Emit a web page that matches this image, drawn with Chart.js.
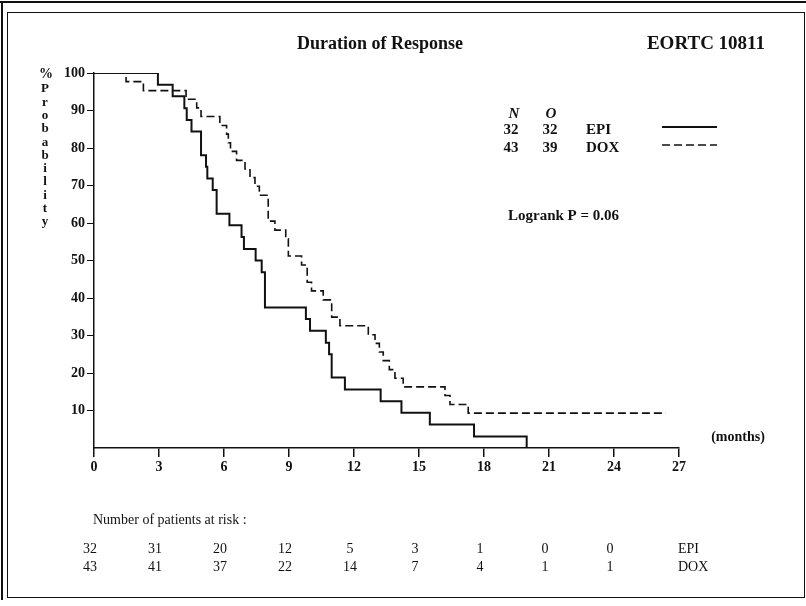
<!DOCTYPE html>
<html>
<head>
<meta charset="utf-8">
<script src="https://cdn.jsdelivr.net/npm/chart.js@4.4.1/dist/chart.umd.min.js"></script>
<style>
  body { margin: 0; background: #fff; }
  canvas { display: block; }
</style>
</head>
<body>
<canvas id="myChart" width="806" height="606"></canvas>
<script>
// Kaplan-Meier steps: month where the curve drops, and % remaining after the drop
const epiMonths = [0, 2.95, 3.63, 4.17, 4.28, 4.5, 4.94, 5.17, 5.23, 5.48, 5.66, 6.25, 6.81, 6.92, 7.46, 7.74, 7.89, 9.78, 9.97, 10.7, 10.85, 10.97, 11.58, 13.23, 14.19, 15.5, 17.54, 19.97];
const epiSurv = [100, 96.9, 93.8, 90.6, 87.5, 84.4, 78.1, 75.0, 71.9, 68.8, 62.5, 59.4, 56.3, 53.1, 50.0, 46.9, 37.5, 34.4, 31.3, 28.1, 25.0, 18.8, 15.6, 12.5, 9.4, 6.3, 3.1, 0];

const doxMonths = [0, 1.48, 2.28, 4.25, 4.74, 4.94, 5.81, 6.12, 6.2, 6.3, 6.58, 6.97, 7.2, 7.43, 7.63, 8.04, 8.35, 8.85, 8.97, 9.58, 9.84, 10.04, 10.58, 10.97, 11.35, 12.66, 12.97, 13.17, 13.35, 13.63, 13.89, 14.27, 16.2, 16.43, 17.27, 26.4];
const doxSurv = [100, 97.7, 95.3, 93.0, 90.7, 88.4, 86.0, 83.7, 81.4, 79.1, 76.7, 74.4, 72.1, 69.8, 67.4, 60.5, 58.1, 55.8, 51.2, 48.8, 44.2, 41.9, 39.5, 34.9, 32.6, 30.2, 27.9, 25.6, 23.3, 20.9, 18.6, 16.3, 14.0, 11.6, 9.3, 9.3];

// numbers at risk under the axis
const riskMonths = [0, 3, 6, 9, 12, 15, 18, 21, 24];
const epiAtRisk = [32, 31, 20, 12, 5, 3, 1, 0, 0];
const doxAtRisk = [43, 41, 37, 22, 14, 7, 4, 1, 1];

// legend table
const groups = ['EPI', 'DOX'];
const groupN = [32, 43];
const groupO = [32, 39];

const serif = '"Liberation Serif", "Times New Roman", serif';
const ink = '#111';

function toPoints(xs, ys) {
    return xs.map((x, i) => ({ x: x, y: ys[i] }));
}

const extras = {
    id: 'extras',
    beforeDraw(chart) {
        const c = chart.ctx;
        c.save();
        c.fillStyle = '#fff';
        c.fillRect(0, 0, chart.width, chart.height);
        c.restore();
    },
    afterDraw(chart) {
        const c = chart.ctx;
        const xs = chart.scales.x;
        c.save();
        c.fillStyle = ink;
        c.strokeStyle = ink;

        // frame
        c.lineWidth = 2;
        c.beginPath();
        c.moveTo(0, 2); c.lineTo(806, 2);
        c.moveTo(2, 2); c.lineTo(2, 600);
        c.stroke();
        c.lineWidth = 1;
        c.strokeRect(7.5, 12.5, 797, 585);

        c.textBaseline = 'middle';
        c.textAlign = 'center';
        c.font = 'bold 18px ' + serif;
        c.fillText('Duration of Response', 380, 44);
        c.font = 'bold 19px ' + serif;
        c.fillText('EORTC 10811', 706, 44);

        // y axis title, stacked letters
        c.font = 'bold 14px ' + serif;
        c.fillText('%', 46, 74);
        c.font = 'bold 13px ' + serif;
        const word = 'Probability';
        for (let i = 0; i < word.length; i++) {
            c.fillText(word[i], 45, 89 + i * 13.3);
        }

        c.font = 'bold 14px ' + serif;
        c.fillText('(months)', 738, 437);

        // legend
        c.font = 'bold italic 15px ' + serif;
        c.fillText('N', 514, 114);
        c.fillText('O', 551, 114);
        c.font = 'bold 15px ' + serif;
        for (let i = 0; i < groups.length; i++) {
            const y = 130 + i * 18;
            c.textAlign = 'center';
            c.fillText(String(groupN[i]), 511, y);
            c.fillText(String(groupO[i]), 550, y);
            c.textAlign = 'left';
            c.fillText(groups[i], 586, y);
            const ds = chart.data.datasets[i];
            c.lineWidth = ds.borderWidth;
            c.setLineDash(ds.borderDash || []);
            c.beginPath();
            c.moveTo(662, y - 3);
            c.lineTo(717, y - 3);
            c.stroke();
            c.setLineDash([]);
        }
        c.textAlign = 'left';
        c.fillText('Logrank P = 0.06', 508, 216);

        // numbers at risk
        c.font = '14px ' + serif;
        c.fillText('Number of patients at risk :', 93, 520);
        c.textAlign = 'center';
        riskMonths.forEach((m, i) => {
            const px = xs.getPixelForValue(m) - 4;
            c.fillText(String(epiAtRisk[i]), px, 549);
            c.fillText(String(doxAtRisk[i]), px, 567);
        });
        c.textAlign = 'left';
        c.fillText('EPI', 678, 549);
        c.fillText('DOX', 678, 567);
        c.restore();
    }
};

const ctx = document.getElementById('myChart').getContext('2d');
const chart = new Chart(ctx, {
    type: 'line',
    data: {
        datasets: [{
            label: 'EPI',
            data: toPoints(epiMonths, epiSurv),
            borderColor: ink,
            borderWidth: 2,
            stepped: 'before',
            fill: false,
        }, {
            label: 'DOX',
            data: toPoints(doxMonths, doxSurv),
            borderColor: ink,
            borderWidth: 1.6,
            borderDash: [8, 4],
            stepped: 'before',
            fill: false,
        }],
    },
    options: {
        responsive: false,
        animation: false,
        layout: { padding: { left: 54, top: 73, right: 127, bottom: 128 } },
        elements: { point: { radius: 0 } },
        plugins: { legend: { display: false }, tooltip: { enabled: false } },
        scales: {
            x: {
                type: 'linear',
                min: 0,
                max: 27,
                afterFit(scale) { scale.height = 30; },
                border: { display: true, color: ink, width: 1.5 },
                grid: { drawOnChartArea: false, drawTicks: true, tickLength: 9, color: ink, lineWidth: 1.5 },
                ticks: {
                    stepSize: 3,
                    padding: 2,
                    color: ink,
                    maxRotation: 0,
                    font: { family: serif, size: 14, weight: 'bold' },
                },
            },
            y: {
                min: 0,
                max: 100,
                afterFit(scale) { scale.width = 40; },
                border: { display: true, color: ink, width: 1.5 },
                grid: {
                    drawOnChartArea: false,
                    tickLength: 7,
                    color: (c) => c.tick && c.tick.value === 0 ? 'rgba(0,0,0,0)' : ink,
                },
                ticks: {
                    stepSize: 10,
                    padding: 2,
                    color: ink,
                    font: { family: serif, size: 14, weight: 'bold' },
                    callback: (v) => v === 0 ? '' : v,
                },
            },
        },
    },
    plugins: [extras],
});
</script>
</body>
</html>
